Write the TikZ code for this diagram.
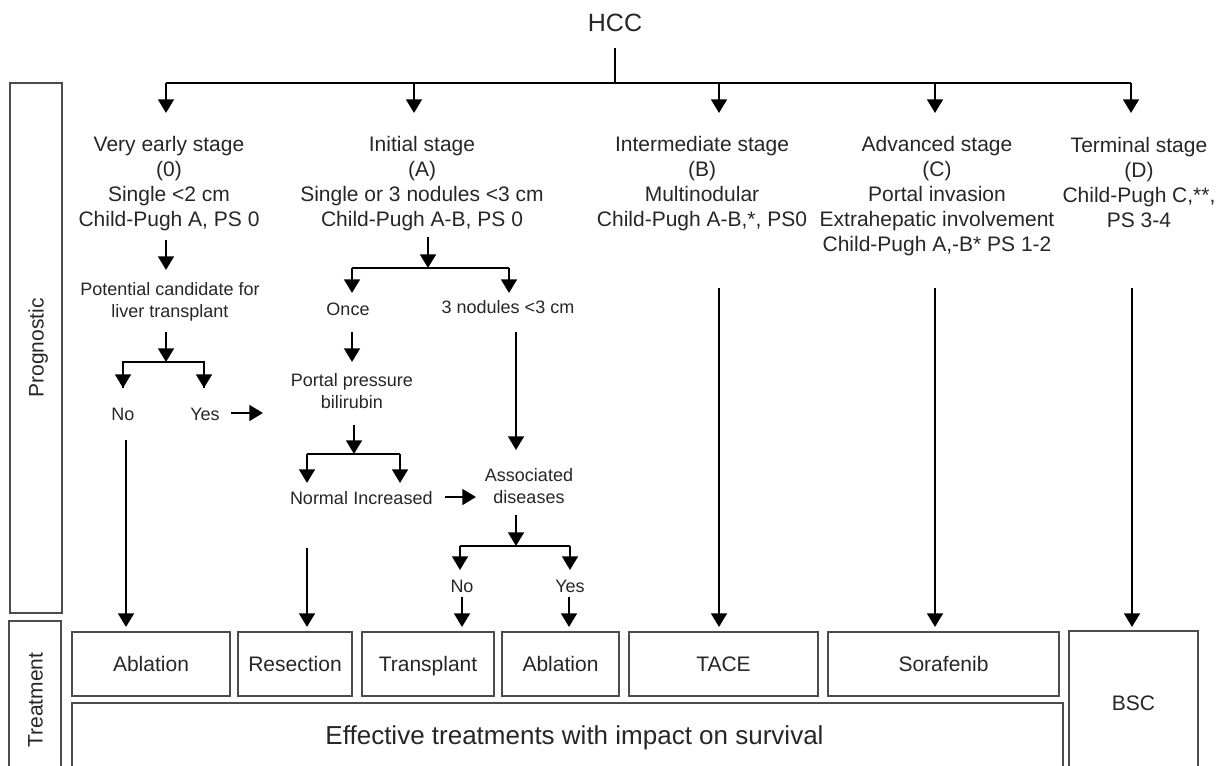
\documentclass[tikz,border=0pt]{standalone}
\usepackage{fontspec}
\setmainfont{Liberation Sans}
\usetikzlibrary{arrows.meta}
\begin{document}
\begin{tikzpicture}[x=0.5pt,y=-0.5pt,line width=1.3pt,
  arr/.style={-{Triangle[width=7.8pt,length=6.8pt]}},
  stagetext/.style={align=center,inner sep=0pt,text=black!85,font=\fontsize{10.5}{12.5}\selectfont},
  smalltext/.style={align=center,inner sep=0pt,text=black!85,font=\fontsize{9}{11}\selectfont},
  word/.style={inner sep=0pt,text=black!85,font=\fontsize{9}{11}\selectfont,text height=6.5pt,text depth=2pt},
  tbox/.style={draw=black!70,line width=0.9pt,inner sep=0pt,minimum height=32pt,text=black!85,
    font=\fontsize{10.5}{12.5}\selectfont,text height=7.6pt,text depth=0pt},
  sidebox/.style={draw=black!70,line width=0.9pt,inner sep=0pt,minimum height=26pt,rotate=90,text=black!85,
    font=\fontsize{10.5}{12.5}\selectfont,text height=7.6pt,text depth=0pt},
]
\useasboundingbox (0,0) rectangle (1225,765);
\clip (0,0) rectangle (1225,765);

% ---------- side boxes ----------
\node[sidebox,minimum width=265pt] (prog) at (36,348) {Prognostic};
\node[sidebox,minimum width=79pt] (treat) at (35,700) {Treatment};

% ---------- root ----------
\node[inner sep=0pt,text=black!85,font=\fontsize{12.5}{14}\selectfont] (hcc) at (615,23) {HCC};

\coordinate (b0) at (166,83);
\coordinate (bA) at (414,83);
\coordinate (bB) at (719,83);
\coordinate (bC) at (935,83);
\coordinate (bD) at (1131,83);
\coordinate (a0) at (166,113);
\coordinate (aA) at (414,113);
\coordinate (aB) at (719,113);
\coordinate (aC) at (935,113);
\coordinate (aD) at (1131,113);

\draw[shorten <=7.5pt] (hcc.south) -- (hcc.south |- b0);
\draw (b0) -- (bD);
\draw[arr] (b0) -- (a0);
\draw[arr] (bA) -- (aA);
\draw[arr] (bB) -- (aB);
\draw[arr] (bC) -- (aC);
\draw[arr] (bD) -- (aD);

% ---------- stages ----------
\node[stagetext] (s0) at (169,184) {Very early stage\\(0)\\Single <2 cm\\Child-Pugh A, PS 0};
\node[stagetext] (sA) at (422,184) {Initial stage\\(A)\\Single or 3 nodules <3 cm\\Child-Pugh A-B, PS 0};
\node[stagetext] (sB) at (702,184) {Intermediate stage\\(B)\\Multinodular\\Child-Pugh A-B,*, PS0};
\node[stagetext] (sC) at (937,196.5) {Advanced stage\\(C)\\Portal invasion\\Extrahepatic involvement\\Child-Pugh A,-B* PS 1-2};
\node[stagetext] (sD) at (1139,182) {Terminal stage\\(D)\\Child-Pugh C,**,\\PS 3-4};

% ---------- very early branch ----------
\node[smalltext] (pc) at (170,302) {Potential candidate for\\liver transplant};
\node[word] (no1) at (123,415.5) {No};
\node[word] (yes1) at (205,415.5) {Yes};

\coordinate (v1) at (166,240);
\coordinate (v2) at (166,270);
\coordinate (v3) at (166,332);
\coordinate (v4) at (166,362);
\coordinate (v5) at (123,362);
\coordinate (v6) at (204,362);
\coordinate (v7) at (123,388);
\coordinate (v8) at (204,388);
\coordinate (y1s) at (231,413);
\coordinate (y1e) at (263,413);
\coordinate (n1s) at (126,440);
\coordinate (n1e) at (126,627);

\draw[arr] (v1) -- (v2);
\draw[arr] (v3) -- (v4);
\draw (v7) -- (v5) -- (v6) -- (v8);
\draw[arr] (v5) -- (v7);
\draw[arr] (v6) -- (v8);
\draw[arr] (y1s) -- (y1e);
\draw[arr] (n1s) -- (n1e);

% ---------- initial branch ----------
\node[word] (once) at (348,310.5) {Once};
\node[word] (three) at (508,308.5) {3 nodules <3 cm};
\node[smalltext] (pp) at (352,391.5) {Portal pressure\\bilirubin};
\node[word] (normal) at (319,499.5) {Normal};
\node[word] (incr) at (393,499.5) {Increased};
\node[smalltext] (ad) at (529,486.5) {Associated\\diseases};
\node[word] (no2) at (462,587.5) {No};
\node[word] (yes2) at (570,587.5) {Yes};

\coordinate (i1) at (428,237);
\coordinate (i2) at (428,268);
\coordinate (i3) at (352,268);
\coordinate (i4) at (509,268);
\coordinate (i5) at (352,293);
\coordinate (i6) at (509,293);
\draw[arr] (i1) -- (i2);
\draw (i3) -- (i4);
\draw[arr] (i3) -- (i5);
\draw[arr] (i4) -- (i6);

\coordinate (o1) at (352,332);
\coordinate (o2) at (352,362);
\draw[arr] (o1) -- (o2);

\coordinate (p1) at (354,425);
\coordinate (p2) at (354,454);
\coordinate (p3) at (307,454);
\coordinate (p4) at (400,454);
\coordinate (p5) at (307,483);
\coordinate (p6) at (400,483);
\draw[arr] (p1) -- (p2);
\draw (p3) -- (p4);
\draw[arr] (p3) -- (p5);
\draw[arr] (p4) -- (p6);

\coordinate (q1) at (445,497);
\coordinate (q2) at (476,497);
\draw[arr] (q1) -- (q2);

\coordinate (m1) at (307,548);
\coordinate (m2) at (307,627);
\draw[arr] (m1) -- (m2);

\coordinate (t1) at (516,332);
\coordinate (t2) at (516,450);
\draw[arr] (t1) -- (t2);

\coordinate (d1) at (516,515);
\coordinate (d2) at (516,546);
\coordinate (d3) at (460,546);
\coordinate (d4) at (570,546);
\coordinate (d5) at (460,570);
\coordinate (d6) at (570,570);
\draw[arr] (d1) -- (d2);
\draw (d3) -- (d4);
\draw[arr] (d3) -- (d5);
\draw[arr] (d4) -- (d6);

\coordinate (e1) at (462,597);
\coordinate (e2) at (462,627);
\coordinate (f1) at (569,597);
\coordinate (f2) at (569,627);
\draw[arr] (e1) -- (e2);
\draw[arr] (f1) -- (f2);

% ---------- long arrows B, C, D ----------
\coordinate (g1) at (719,288);
\coordinate (g2) at (719,627);
\coordinate (h1) at (935,288);
\coordinate (h2) at (935,627);
\coordinate (k1) at (1132,288);
\coordinate (k2) at (1132,627);
\draw[arr] (g1) -- (g2);
\draw[arr] (h1) -- (h2);
\draw[arr] (k1) -- (k2);

% ---------- treatment boxes ----------
\node[tbox,minimum width=79pt] (abl1) at (151,664) {Ablation};
\node[tbox,minimum width=57pt] (res) at (295,664) {Resection};
\node[tbox,minimum width=66pt] (tra) at (428,664) {Transplant};
\node[tbox,minimum width=58.5pt] (abl2) at (560.5,664) {Ablation};
\node[tbox,minimum width=94.5pt] (tace) at (723.5,664) {TACE};
\node[tbox,minimum width=115.5pt] (sora) at (943.5,664) {Sorafenib};
\node[tbox,minimum width=64.5pt,minimum height=72pt] (bsc) at (1133.5,703) {BSC};
\node[tbox,minimum width=495.5pt] (eff) at (567.5,735) {};
\node[inner sep=0pt,text=black!85,font=\fontsize{13}{15}\selectfont,text height=9.5pt,text depth=0pt] (efft) at (574.5,735) {Effective treatments with impact on survival};
\end{tikzpicture}
\end{document}
